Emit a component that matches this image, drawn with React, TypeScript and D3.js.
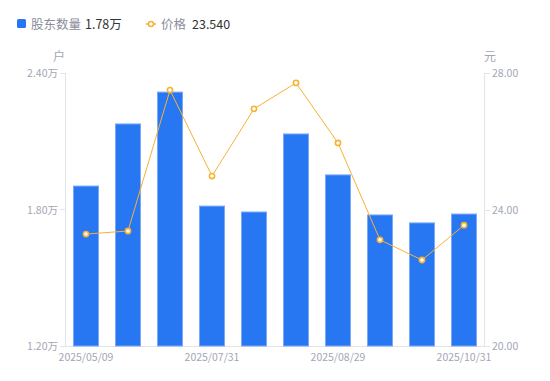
import React from "react";
import * as d3 from "d3";

const dates = [
  "2025/05/09", "2025/06/10", "2025/06/30", "2025/07/31", "2025/08/10",
  "2025/08/20", "2025/08/29", "2025/09/19", "2025/09/30", "2025/10/31",
];
const holders = [1.903, 2.176, 2.316, 1.815, 1.789, 2.132, 1.952, 1.776, 1.741, 1.78];
const prices = [23.28, 23.37, 27.5, 24.98, 26.95, 27.71, 25.95, 23.11, 22.52, 23.54];
const leftTicks = [1.2, 1.8, 2.4];
const rightTicks = [20, 24, 28];
const shownDates = ["2025/05/09", "2025/07/31", "2025/08/29", "2025/10/31"];

export default function App() {
  const W = 550, H = 381;
  const x0 = 65, x1 = 485, yTop = 73, yBot = 346;
  const x = d3.scaleBand<string>().domain(dates).range([x0, x1]).paddingInner(0.4).paddingOuter(0.2);
  const xc = d3.scaleBand<string>().domain(dates).range([x0, x1]);
  const yL = d3.scaleLinear().domain([1.2, 2.4]).range([yBot, yTop]);
  const yR = d3.scaleLinear().domain([20, 28]).range([yBot, yTop]);
  const line = d3.line<number>().x((_, i) => xc(dates[i])! + xc.bandwidth() / 2).y((d) => yR(d));
  const font = "'Noto Sans CJK SC', 'Noto Sans', sans-serif";
  const gray = "#a3a6b4";
  const bw = 25;
  return (
    <svg width={W} height={H} style={{ position: "absolute", left: 0, top: 0 }} fontFamily={font}>
      {/* legend */}
      <rect x={17} y={19} width={9} height={9} rx={1.5} fill="#2777f3" />
      <text x={31} y={28.5} fontSize={12.5} fill="#8a8d99">股东数量</text>
      <text x={85} y={28.5} fontSize={12.5} fill="#333">1.78万</text>
      <line x1={146} x2={156} y1={24} y2={24} stroke="#f8b133" strokeWidth={1.5} />
      <circle cx={151} cy={24} r={2.5} fill="#fff" stroke="#f8b133" strokeWidth={1.5} />
      <text x={161} y={28.5} fontSize={12.5} fill="#8a8d99">价格</text>
      <text x={192} y={28.5} fontSize={12.5} fill="#333">23.540</text>
      {/* units */}
      <text x={59} y={61} fontSize={12} fill={gray} textAnchor="middle">户</text>
      <text x={490} y={61} fontSize={12} fill={gray} textAnchor="middle">元</text>
      {/* axes */}
      <line x1={x0 + 0.5} x2={x0 + 0.5} y1={yTop} y2={yBot} stroke="#e3e4e8" />
      <line x1={x1 - 0.5} x2={x1 - 0.5} y1={yTop} y2={yBot} stroke="#e3e4e8" />
      <line x1={x0} x2={x1} y1={yBot + 0.5} y2={yBot + 0.5} stroke="#e3e4e8" />
      {leftTicks.map((t) => (
        <g key={"l" + t}>
          <line x1={x0 - 5} x2={x0} y1={Math.round(yL(t)) + 0.5} y2={Math.round(yL(t)) + 0.5} stroke="#e3e4e8" />
          <text x={x0 - 7} y={yL(t) + 4} fontSize={10.5} fill={gray} textAnchor="end">{t.toFixed(2)}万</text>
        </g>
      ))}
      {rightTicks.map((t) => (
        <g key={"r" + t}>
          <line x1={x1} x2={x1 + 5} y1={Math.round(yR(t)) + 0.5} y2={Math.round(yR(t)) + 0.5} stroke="#e3e4e8" />
          <text x={x1 + 7} y={yR(t) + 4} fontSize={10.5} fill={gray} textAnchor="start">{t.toFixed(2)}</text>
        </g>
      ))}
      {shownDates.map((d) => (
        <text key={d} x={xc(d)! + xc.bandwidth() / 2} y={361} fontSize={10.5} fill={gray} textAnchor="middle">{d}</text>
      ))}
      {/* bars */}
      {holders.map((v, i) => {
        const cx = xc(dates[i])! + xc.bandwidth() / 2;
        return (
          <rect key={i} x={cx - bw / 2} y={yL(v)} width={bw} height={yBot - yL(v)}
            fill="#2777f3" stroke="#7aa8f7" strokeWidth={1} />
        );
      })}
      {/* line */}
      <path d={line(prices) || ""} fill="none" stroke="#f8b133" strokeWidth={1} />
      {prices.map((p, i) => (
        <circle key={i} cx={xc(dates[i])! + xc.bandwidth() / 2} cy={yR(p)} r={2.6} fill="#fff" stroke="#f8b133" strokeWidth={1.6} />
      ))}
    </svg>
  );
}
